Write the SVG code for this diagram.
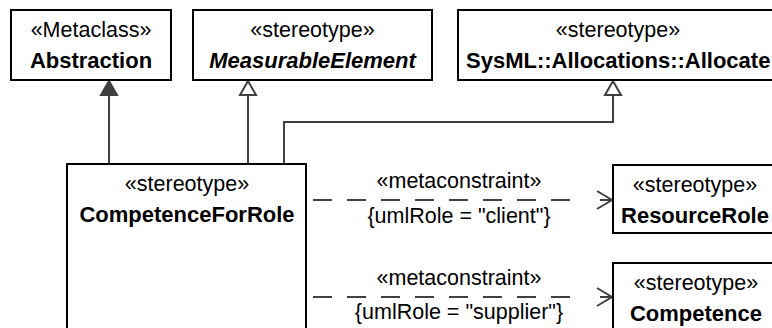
<svg xmlns="http://www.w3.org/2000/svg" width="772" height="328" viewBox="0 0 772 328">
<style>
  .box{fill:#fff;stroke:#000;stroke-width:2}
  text{font-family:"Liberation Sans",Arial,sans-serif;font-size:21.5px;fill:#000;text-anchor:middle}
  .name{font-weight:bold;font-size:22px}
  .abs{font-weight:bold;font-style:italic;font-size:22px}
  .conn{fill:none;stroke:#404040;stroke-width:2}
  .dash{fill:none;stroke:#404040;stroke-width:2;stroke-dasharray:19 15}
</style>
<defs>
  <marker id="genHollow" markerUnits="userSpaceOnUse" markerWidth="20" markerHeight="20" viewBox="-16 -10 20 20" refX="0" refY="0" orient="auto" overflow="visible">
    <path d="M0,0 L-14,-8 L-14,8 Z" fill="#fff" stroke="#404040" stroke-width="2" stroke-dasharray="none"/>
  </marker>
  <marker id="genFilled" markerUnits="userSpaceOnUse" markerWidth="20" markerHeight="20" viewBox="-16 -10 20 20" refX="0" refY="0" orient="auto" overflow="visible">
    <path d="M0,0 L-14,-8 L-14,8 Z" fill="#404040" stroke="#404040" stroke-width="2" stroke-dasharray="none"/>
  </marker>
</defs>

<g id="connectors">
  <path class="conn" d="M109,164 V81" marker-end="url(#genFilled)"/>
  <path class="conn" d="M248,164 V81" marker-end="url(#genHollow)"/>
  <path class="conn" d="M284,164 V122 H613 V81" marker-end="url(#genHollow)"/>
  <g id="dep1">
    <path class="dash" d="M313,200 H570"/>
    <path class="conn" d="M597,191 L612,200 L597,209 M600,200 H612"/>
    <text x="459" y="188">«metaconstraint»</text>
    <text x="459" y="223">{umlRole = "client"}</text>
  </g>
  <g id="dep2">
    <path class="dash" d="M313,297 H570"/>
    <path class="conn" d="M597,288 L612,297 L597,306 M600,297 H612"/>
    <text x="459" y="285">«metaconstraint»</text>
    <text x="459" y="319">{umlRole = "supplier"}</text>
  </g>
</g>

<g id="Abstraction">
  <rect class="box" x="11" y="10" width="160" height="70"/>
  <text x="91" y="37">«Metaclass»</text>
  <text class="name" x="91" y="68">Abstraction</text>
</g>
<g id="MeasurableElement">
  <rect class="box" x="193" y="10" width="239" height="70"/>
  <text x="312.5" y="37">«stereotype»</text>
  <text class="abs" x="312.5" y="68">MeasurableElement</text>
</g>
<g id="Allocated">
  <rect class="box" x="458" y="10" width="330" height="70"/>
  <text x="618" y="37">«stereotype»</text>
  <text class="name" x="466" y="68" style="text-anchor:start">SysML::Allocations::Allocate</text>
</g>
<g id="CompetenceForRole">
  <rect class="box" x="67" y="164" width="239" height="200"/>
  <text x="187" y="191">«stereotype»</text>
  <text class="name" x="187" y="222">CompetenceForRole</text>
</g>
<g id="ResourceRole">
  <rect class="box" x="613" y="165" width="170" height="68"/>
  <text x="695" y="192">«stereotype»</text>
  <text class="name" x="695" y="223">ResourceRole</text>
</g>
<g id="Competence">
  <rect class="box" x="613" y="263" width="170" height="80"/>
  <text x="696" y="290">«stereotype»</text>
  <text class="name" x="696" y="321">Competence</text>
</g>
</svg>
